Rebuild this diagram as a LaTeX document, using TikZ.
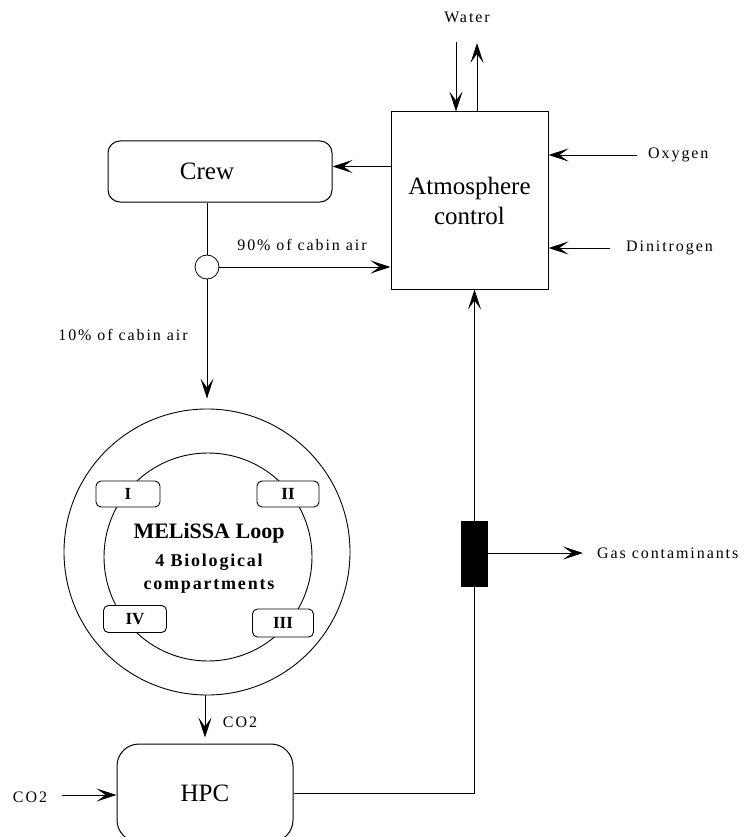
\documentclass[tikz,border=0pt]{standalone}
\usepackage{fontspec}
\setmainfont{Liberation Serif}
\newfontfamily\lblfont[LetterSpace=12]{Liberation Serif}
\newfontfamily\bspfont[LetterSpace=10]{Liberation Serif}
\usetikzlibrary{arrows.meta}
\begin{document}
\begin{tikzpicture}[x=1pt,y=-1pt,
  box/.style={draw, line width=1pt, inner sep=0pt},
  bigf/.style={font=\fontsize{25}{30}\selectfont},
  lbl/.style={font=\lblfont\fontsize{16}{18}\selectfont, inner sep=0pt},
  ln/.style={line width=0.8pt},
  arr/.style={line width=0.8pt, -{Stealth[length=20pt,width=13pt,inset=9pt]}},
  comp/.style={draw, line width=0.9pt, fill=white, rounded corners=5pt, inner sep=0pt,
    minimum height=26pt, font=\bfseries\fontsize{17}{20}\selectfont}]
\clip (0,0) rectangle (751,837);
\useasboundingbox (0,0) rectangle (751,837);

% main blocks
\node[box, bigf, align=center, minimum width=157pt, minimum height=177pt] (atm) at (469.5,200.5) {Atmosphere\\control};
\node[box, rounded corners=12pt, minimum width=224pt, minimum height=61pt,
      label={[bigf, xshift=-13pt]center:Crew}] (crew) at (220,171.5) {};
\node[draw, circle, line width=0.8pt, minimum size=24pt, inner sep=0pt] (split) at (207,267) {};

\node[draw, circle, line width=0.9pt, minimum size=286pt, inner sep=0pt] (loopout) at (207,552) {};
\node[draw, circle, line width=0.9pt, minimum size=208pt, inner sep=0pt] (loopin) at (208,557) {};
\node[inner sep=0pt, font=\bfseries\fontsize{22}{24}\selectfont] (mel1) at (209,533) {MELiSSA Loop};
\node[inner sep=0pt, font=\bspfont\bfseries\fontsize{18}{20}\selectfont] (mel2) at (209,562) {4 Biological};
\node[inner sep=0pt, font=\bspfont\bfseries\fontsize{18}{20}\selectfont] (mel3) at (209,586) {compartments};

\node[comp, minimum width=64pt] (c1) at (128,494) {I};
\node[comp, minimum width=62pt] (c2) at (288,494) {II};
\node[comp, minimum width=63pt, minimum height=27pt] (c4) at (135,619) {IV};
\node[comp, minimum width=61pt, minimum height=28pt] (c3) at (283,623) {III};

\node[box, bigf, rounded corners=22pt, minimum width=176pt, minimum height=98pt] (hpc) at (205,793) {HPC};
\node[fill=black, minimum width=27pt, minimum height=66pt, inner sep=0pt] (filt) at (474.5,554) {};

% free ends
\coordinate (wIn) at (456,42);
\coordinate (wOut) at (477,43);
\coordinate (oxS) at (637,155);
\coordinate (diS) at (610,248);
\coordinate (gasE) at (583,553);
\coordinate (co2S) at (62,795);
\coordinate (corner) at (474.5,793);
\path ([yshift=5pt]crew.east) coordinate (cI);
\path ([yshift=6pt]hpc.north) coordinate (hT);

% labels
\node[lbl] (lwater) at (467,17) {Water};
\node[lbl, anchor=west] (loxy) at (648,155) {Oxygen};
\node[lbl, anchor=west] (ldin) at (626,248) {Dinitrogen};
\node[lbl, anchor=west] (lgas) at (597,553) {Gas contaminants};
\node[lbl] (l90) at (302,245) {90\% of cabin air};
\node[lbl] (l10) at (123,335) {10\% of cabin air};
\node[lbl] (lco2a) at (240,722) {CO2};
\node[lbl] (lco2b) at (30,797) {CO2};

% connectors
\draw[arr] (wIn) -- (wIn |- atm.north);
\draw[arr] (wOut |- atm.north) -- (wOut);
\draw[arr] (oxS) -- (oxS -| atm.east);
\draw[arr] (diS) -- (diS -| atm.east);
\draw[arr] (cI -| atm.west) -- (cI);
\draw[ln] (crew.south -| split) -- (split.north);
\draw[arr] (split.east) -- (split -| atm.west);
\draw[arr] (split.south) -- ([yshift=10pt]loopout.north);
\draw[arr] (loopout.south -| hT) -- (hT);
\draw[arr] (co2S) -- (co2S -| hpc.west);
\draw[ln] (hpc.east |- corner) -- (corner) -- (filt.south);
\draw[arr] (filt.north) -- (filt.north |- atm.south);
\draw[arr] (filt.east |- gasE) -- (gasE);
\end{tikzpicture}
\end{document}
